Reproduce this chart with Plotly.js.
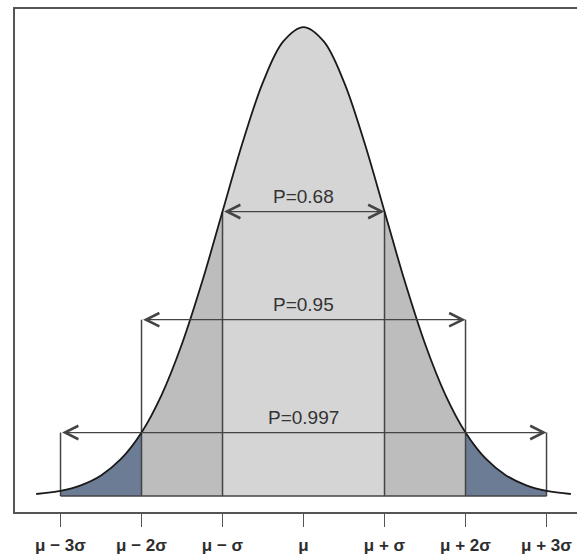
<!DOCTYPE html>
<html>
<head>
<meta charset="utf-8">
<script src="https://cdn.plot.ly/plotly-3.0.1.min.js"></script>
<style>
html,body{margin:0;padding:0;overflow:hidden;background:#fff;}
#chart{width:582px;height:560px;}
</style>
</head>
<body>
<div id="chart"></div>
<script>
// ---- data ----
const tickPositions = [-3, -2, -1, 0, 1, 2, 3];
const tickLabels = ['μ − 3σ', 'μ − 2σ', 'μ − σ', 'μ', 'μ + σ', 'μ + 2σ', 'μ + 3σ'];
const curveX = [-3.3, -3, -2.75, -2.5, -2.25, -2, -1.75, -1.5, -1.25, -1, -0.75, -0.5, -0.25, 0,
                0.25, 0.5, 0.75, 1, 1.25, 1.5, 1.75, 2, 2.25, 2.5, 2.75, 3, 3.3];
const curveY = [0.0017, 0.0044, 0.0091, 0.0175, 0.0317, 0.0540, 0.0863, 0.1295, 0.1826, 0.2420, 0.3011, 0.3521, 0.3867, 0.3989,
                0.3867, 0.3521, 0.3011, 0.2420, 0.1826, 0.1295, 0.0863, 0.0540, 0.0317, 0.0175, 0.0091, 0.0044, 0.0017];
const arrowHalfWidths = [1, 2, 3];
const arrowLevels = [0.242, 0.150, 0.054];
const arrowLabels = ['P=0.68', 'P=0.95', 'P=0.997'];

// ---- styles ----
const colCenter = '#d5d5d5', colMid = '#bdbdbd', colTail = '#6b7c94';
const structColor = '#444444';

function region(a, b) {
  const xs = [], ys = [];
  for (let i = 0; i < curveX.length; i++) {
    if (curveX[i] >= a - 1e-9 && curveX[i] <= b + 1e-9) { xs.push(curveX[i]); ys.push(curveY[i]); }
  }
  return {xs, ys};
}
function fillTrace(a, b, color) {
  const r = region(a, b);
  return {x: r.xs, y: r.ys, type: 'scatter', mode: 'lines', fill: 'tozeroy', fillcolor: color,
          line: {width: 0, shape: 'spline', color: color}, hoverinfo: 'skip', showlegend: false};
}

const traces = [];
traces.push(fillTrace(-arrowHalfWidths[0], arrowHalfWidths[0], colCenter));
traces.push(fillTrace(-arrowHalfWidths[1], -arrowHalfWidths[0], colMid));
traces.push(fillTrace(arrowHalfWidths[0], arrowHalfWidths[1], colMid));
traces.push(fillTrace(-arrowHalfWidths[2], -arrowHalfWidths[1], colTail));
traces.push(fillTrace(arrowHalfWidths[1], arrowHalfWidths[2], colTail));

// vertical structure lines: at +-k sigma from 0 up to the arrow level of that span
const vx = [], vy = [];
for (let i = 0; i < arrowHalfWidths.length; i++) {
  for (const s of [-1, 1]) {
    vx.push(s * arrowHalfWidths[i], s * arrowHalfWidths[i], null);
    vy.push(0, arrowLevels[i], null);
  }
}
// baseline from -3 to 3
const last = arrowHalfWidths.length - 1;
vx.push(-arrowHalfWidths[last], arrowHalfWidths[last], null);
vy.push(0, 0, null);
traces.push({x: vx, y: vy, type: 'scatter', mode: 'lines', line: {color: structColor, width: 1.5},
             hoverinfo: 'skip', showlegend: false});

// curve
traces.push({x: curveX, y: curveY, type: 'scatter', mode: 'lines',
             line: {color: '#1a1a1a', width: 1.8, shape: 'spline'}, hoverinfo: 'skip', showlegend: false});

const annotations = [];
for (let i = 0; i < arrowHalfWidths.length; i++) {
  annotations.push({
    x: arrowHalfWidths[i], y: arrowLevels[i], ax: -arrowHalfWidths[i], ay: arrowLevels[i],
    xref: 'x', yref: 'y', axref: 'x', ayref: 'y', text: '', showarrow: true,
    arrowside: 'end+start', arrowhead: 5, startarrowhead: 5, arrowsize: 2.2, startarrowsize: 2.2,
    arrowwidth: 1.2, arrowcolor: structColor, standoff: 0, startstandoff: 0
  });
  annotations.push({
    x: 0, y: arrowLevels[i], xref: 'x', yref: 'y', text: arrowLabels[i], showarrow: false,
    yanchor: 'middle', yshift: 15,
    font: {family: 'Liberation Sans, Arial, sans-serif', size: 19, color: '#333333'}
  });
}

const layout = {
  width: 582, height: 560,
  margin: {l: 15, r: 0, t: 9, b: 48},
  paper_bgcolor: '#ffffff', plot_bgcolor: '#ffffff',
  showlegend: false,
  xaxis: {
    range: [-3.562, 3.438], showgrid: false, zeroline: false,
    showline: true, mirror: true, linecolor: '#555555', linewidth: 2,
    tickmode: 'array', tickvals: tickPositions, ticktext: tickLabels,
    ticks: 'outside', ticklen: 13, tickwidth: 1.5, tickcolor: '#555555',
    ticklabelstandoff: 4,
    tickfont: {family: 'Liberation Sans, Arial, sans-serif', size: 17, color: '#2e2e2e', weight: 'bold'}
  },
  yaxis: {
    range: [-0.01361, 0.4143], showgrid: false, zeroline: false,
    showline: true, mirror: true, linecolor: '#555555', linewidth: 2,
    showticklabels: false, ticks: ''
  },
  annotations: annotations
};

Plotly.newPlot('chart', traces, layout, {displayModeBar: false, staticPlot: true});
</script>
</body>
</html>
